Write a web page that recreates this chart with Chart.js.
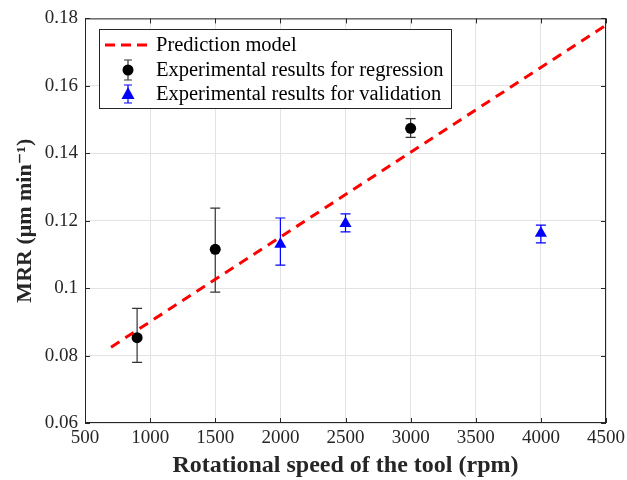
<!DOCTYPE html>
<html>
<head>
<meta charset="utf-8">
<script src="https://cdn.jsdelivr.net/npm/chart.js@4.4.0/dist/chart.umd.min.js"></script>
<style>
html, body { margin: 0; padding: 0; background: #fff; }
#wrap { width: 627px; height: 480px; }
</style>
</head>
<body>
<div id="wrap"><canvas id="myChart" width="627" height="480"></canvas></div>
<script>
// Dados
const predX = [700, 4500];
const predY = [0.0825, 0.178];

const regX = [900, 1500, 3000];
const regY = [0.0853, 0.1115, 0.1474];
const regLow = [0.078, 0.0988, 0.1447];
const regHigh = [0.094, 0.1237, 0.1503];

const valX = [2000, 2500, 4000];
const valY = [0.1130, 0.1192, 0.1163];
const valLow = [0.1068, 0.1167, 0.1134];
const valHigh = [0.1208, 0.1220, 0.1187];

const legendLabels = ['Prediction model', 'Experimental results for regression', 'Experimental results for validation'];
const xTitle = 'Rotational speed of the tool (rpm)';
const yTitle = 'MRR (\u03bcm min\u207b\u00b9)';

const serif = "'Liberation Serif', 'DejaVu Serif', serif";

function toPoints(xs, ys) {
    return xs.map((x, i) => ({ x: x, y: ys[i] }));
}

// Barras de erro
function drawErrorBars(chart, xs, lows, highs, color) {
    const c = chart.ctx;
    const sx = chart.scales.x, sy = chart.scales.y;
    c.save();
    c.strokeStyle = color;
    c.lineWidth = 1.2;
    xs.forEach((x, i) => {
        const px = sx.getPixelForValue(x);
        const pl = sy.getPixelForValue(lows[i]);
        const ph = sy.getPixelForValue(highs[i]);
        c.beginPath();
        c.moveTo(px, pl); c.lineTo(px, ph);
        c.moveTo(px - 5, pl); c.lineTo(px + 5, pl);
        c.moveTo(px - 5, ph); c.lineTo(px + 5, ph);
        c.stroke();
    });
    c.restore();
}

const errorBarPlugin = {
    id: 'errorBars',
    beforeDatasetsDraw(chart) {
        drawErrorBars(chart, regX, regLow, regHigh, '#333333');
        drawErrorBars(chart, valX, valLow, valHigh, '#0000ff');
    }
};

// Caixa dos eixos + ticks internos + legenda
const boxPlugin = {
    id: 'boxAndLegend',
    afterDraw(chart) {
        const c = chart.ctx;
        const a = chart.chartArea;
        const sx = chart.scales.x, sy = chart.scales.y;
        c.save();
        c.strokeStyle = '#262626';
        c.lineWidth = 1;
        c.strokeRect(a.left + 0.5, a.top + 0.5, a.right - a.left - 1, a.bottom - a.top - 1);
        c.beginPath();
        sx.ticks.forEach(t => {
            const px = Math.round(sx.getPixelForValue(t.value)) + 0.5;
            c.moveTo(px, a.bottom); c.lineTo(px, a.bottom - 5);
            c.moveTo(px, a.top); c.lineTo(px, a.top + 5);
        });
        sy.ticks.forEach(t => {
            const py = Math.round(sy.getPixelForValue(t.value)) + 0.5;
            c.moveTo(a.left, py); c.lineTo(a.left + 5, py);
            c.moveTo(a.right, py); c.lineTo(a.right - 5, py);
        });
        c.stroke();

        // Legenda
        const lx = 99, ly = 29, lw = 352, lh = 79;
        c.fillStyle = '#fff';
        c.fillRect(lx, ly, lw, lh);
        c.strokeStyle = '#262626';
        c.strokeRect(lx + 0.5, ly + 0.5, lw, lh);

        const rows = [45, 70, 94];
        c.strokeStyle = '#ff0000';
        c.lineWidth = 3;
        c.setLineDash([10, 6]);
        c.beginPath();
        c.moveTo(105, rows[0]); c.lineTo(152, rows[0]);
        c.stroke();
        c.setLineDash([]);

        // marcador regressão
        c.strokeStyle = '#333';
        c.lineWidth = 1.2;
        c.beginPath();
        c.moveTo(128, rows[1] - 10); c.lineTo(128, rows[1] + 10);
        c.moveTo(124, rows[1] - 10); c.lineTo(132, rows[1] - 10);
        c.moveTo(124, rows[1] + 10); c.lineTo(132, rows[1] + 10);
        c.stroke();
        c.fillStyle = '#000';
        c.beginPath();
        c.arc(128, rows[1], 5.5, 0, Math.PI * 2);
        c.fill();

        // marcador validação
        c.strokeStyle = '#0000ff';
        c.beginPath();
        c.moveTo(128, rows[2] - 9); c.lineTo(128, rows[2] + 9);
        c.moveTo(124, rows[2] - 9); c.lineTo(132, rows[2] - 9);
        c.moveTo(124, rows[2] + 9); c.lineTo(132, rows[2] + 9);
        c.stroke();
        c.fillStyle = '#0000ff';
        c.beginPath();
        c.moveTo(128, rows[2] - 7); c.lineTo(134.5, rows[2] + 5); c.lineTo(121.5, rows[2] + 5);
        c.closePath();
        c.fill();

        c.fillStyle = '#000';
        c.font = '20.5px ' + serif;
        c.textBaseline = 'middle';
        c.textAlign = 'left';
        legendLabels.forEach((t, i) => c.fillText(t, 156, rows[i] + 1));
        c.restore();
    }
};

const ctx = document.getElementById('myChart').getContext('2d');
const myChart = new Chart(ctx, {
    type: 'scatter',
    data: {
        datasets: [
            {
                label: legendLabels[0],
                data: toPoints(predX, predY),
                showLine: true,
                borderColor: '#ff0000',
                borderWidth: 3,
                borderDash: [10, 7],
                pointRadius: 0,
                fill: false
            },
            {
                label: legendLabels[1],
                data: toPoints(regX, regY),
                pointStyle: 'circle',
                pointRadius: 5.5,
                backgroundColor: '#000',
                borderColor: '#000',
                borderWidth: 0
            },
            {
                label: legendLabels[2],
                data: toPoints(valX, valY),
                pointStyle: 'triangle',
                pointRadius: 7,
                backgroundColor: '#0000ff',
                borderColor: '#0000ff',
                borderWidth: 0
            }
        ]
    },
    options: {
        responsive: false,
        animation: false,
        layout: { padding: { top: 17, right: 21, left: 0, bottom: 0 } },
        plugins: {
            legend: { display: false },
            tooltip: { enabled: false }
        },
        scales: {
            x: {
                type: 'linear',
                min: 500,
                max: 4500,
                afterFit: s => { s.height = 57; s.paddingRight = 0; s.paddingLeft = 0; },
                ticks: {
                    stepSize: 500,
                    maxRotation: 0,
                    padding: 4,
                    color: '#262626',
                    font: { family: serif, size: 19 },
                    callback: v => String(v)
                },
                grid: { color: '#e3e3e3', drawTicks: false },
                border: { display: false },
                title: {
                    display: true,
                    text: xTitle,
                    color: '#262626',
                    padding: { top: 0, bottom: 0 },
                    font: { family: serif, size: 24, weight: 'bold' }
                }
            },
            y: {
                min: 0.06,
                max: 0.18,
                afterFit: s => { s.width = 85; },
                ticks: {
                    stepSize: 0.02,
                    padding: 7,
                    color: '#262626',
                    font: { family: serif, size: 19 },
                    callback: v => Number(v.toFixed(2)).toString()
                },
                grid: { color: '#e3e3e3', drawTicks: false },
                border: { display: false },
                title: {
                    display: true,
                    text: yTitle,
                    color: '#262626',
                    padding: { top: 12, bottom: 0 },
                    font: { family: serif, size: 22, weight: 'bold' }
                }
            }
        }
    },
    plugins: [errorBarPlugin, boxPlugin]
});
</script>
</body>
</html>
